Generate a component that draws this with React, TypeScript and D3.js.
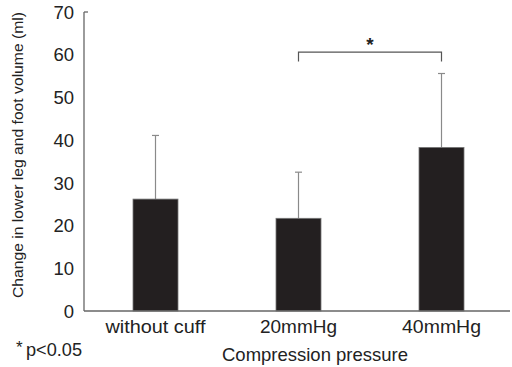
import { useEffect, useRef } from 'react';
import * as d3 from 'd3';

const categories = ['without cuff', '20mmHg', '40mmHg'];
const categoryWidths = [100, 77, 79];
const means = [26.2, 21.7, 38.3];
const sds = [14.9, 10.8, 17.3];
const yTicks = [0, 10, 20, 30, 40, 50, 60, 70];
const bracketLevel = 60.6;
const bracketDrop = 2.2;

export default function App() {
	const svgRef = useRef<SVGSVGElement>(null);

	useEffect(() => {
		const W = 512;
		const H = 367;
		const left = 84, right = 513, top = 12, bottom = 311;
		const font = '"Liberation Sans", Arial, sans-serif';

		const svg = d3.select(svgRef.current);
		svg.selectAll('*').remove();
		svg.attr('width', W).attr('height', H);

		svg.append('rect').attr('width', W).attr('height', H).attr('fill', '#fff');

		const x = d3.scalePoint<string>()
			.domain(categories)
			.range([left, right])
			.padding(0.5);

		const y = d3.scaleLinear()
			.domain([0, 70])
			.range([bottom, top]);

		const barW = 45;

		// error bars (upper only)
		categories.forEach((c, i) => {
			const cx = x(c)!;
			svg.append('line')
				.attr('x1', cx).attr('x2', cx)
				.attr('y1', y(means[i])).attr('y2', y(means[i] + sds[i]))
				.attr('stroke', '#8a8a8a').attr('stroke-width', 1.2);
			svg.append('line')
				.attr('x1', cx - 3.5).attr('x2', cx + 3.5)
				.attr('y1', y(means[i] + sds[i])).attr('y2', y(means[i] + sds[i]))
				.attr('stroke', '#8a8a8a').attr('stroke-width', 1.2);
		});

		svg.selectAll('rect.bar')
			.data(means)
			.join('rect')
			.attr('class', 'bar')
			.attr('x', (_, i) => x(categories[i])! - barW / 2)
			.attr('y', d => y(d))
			.attr('width', barW)
			.attr('height', d => y(0) - y(d))
			.attr('fill', '#231f20')
			.attr('stroke', '#777')
			.attr('stroke-width', 0.8);

		// axes
		svg.append('line')
			.attr('x1', left).attr('x2', left)
			.attr('y1', y(70)).attr('y2', y(0))
			.attr('stroke', '#666').attr('stroke-width', 1.3);
		svg.append('line')
			.attr('x1', left).attr('x2', left + 4)
			.attr('y1', y(70)).attr('y2', y(70))
			.attr('stroke', '#666').attr('stroke-width', 1.3);
		svg.append('line')
			.attr('x1', left).attr('x2', 510)
			.attr('y1', y(0)).attr('y2', y(0))
			.attr('stroke', '#666').attr('stroke-width', 1.3);

		svg.selectAll('text.ytick')
			.data(yTicks)
			.join('text')
			.attr('class', 'ytick')
			.attr('x', 74)
			.attr('y', d => y(d))
			.attr('dy', '0.36em')
			.attr('text-anchor', 'end')
			.attr('font-family', font)
			.attr('font-size', 18.5)
			.attr('fill', '#222')
			.text(d => d);

		svg.selectAll('text.xtick')
			.data(categories)
			.join('text')
			.attr('class', 'xtick')
			.attr('x', d => x(d)!)
			.attr('y', 333)
			.attr('text-anchor', 'middle')
			.attr('font-family', font)
			.attr('font-size', 18)
			.attr('textLength', (_, i) => categoryWidths[i])
			.attr('lengthAdjust', 'spacingAndGlyphs')
			.attr('fill', '#222')
			.text(d => d);

		svg.append('text')
			.attr('x', 315)
			.attr('y', 361)
			.attr('text-anchor', 'middle')
			.attr('font-family', font)
			.attr('font-size', 18.5)
			.attr('textLength', 186)
			.attr('lengthAdjust', 'spacingAndGlyphs')
			.attr('fill', '#222')
			.text('Compression pressure');

		svg.append('text')
			.attr('transform', `translate(22.5, 155) rotate(-90)`)
			.attr('text-anchor', 'middle')
			.attr('font-family', font)
			.attr('font-size', 15)
			.attr('textLength', 286)
			.attr('lengthAdjust', 'spacingAndGlyphs')
			.attr('fill', '#222')
			.text('Change in lower leg and foot volume (ml)');

		// significance bracket
		const x1 = x(categories[1])!;
		const x2 = x(categories[2])!;
		svg.append('path')
			.attr('d', `M${x1},${y(bracketLevel - bracketDrop)}V${y(bracketLevel)}H${x2}V${y(bracketLevel - bracketDrop)}`)
			.attr('fill', 'none')
			.attr('stroke', '#555')
			.attr('stroke-width', 1.2);
		svg.append('text')
			.attr('x', (x1 + x2) / 2)
			.attr('y', 51)
			.attr('text-anchor', 'middle')
			.attr('font-family', font)
			.attr('font-size', 19)
			.attr('font-weight', 'bold')
			.attr('fill', '#222')
			.text('*');

		svg.append('text')
			.attr('x', 16)
			.attr('y', 353)
			.attr('font-family', font)
			.attr('font-size', 17)
			.attr('fill', '#222')
			.text('*');
		svg.append('text')
			.attr('x', 26)
			.attr('y', 356)
			.attr('font-family', font)
			.attr('font-size', 17.5)
			.attr('textLength', 56)
			.attr('lengthAdjust', 'spacingAndGlyphs')
			.attr('fill', '#222')
			.text('p<0.05');
	}, []);

	return <svg ref={svgRef} style={{ position: 'absolute', left: 0, top: 0 }} />;
}
